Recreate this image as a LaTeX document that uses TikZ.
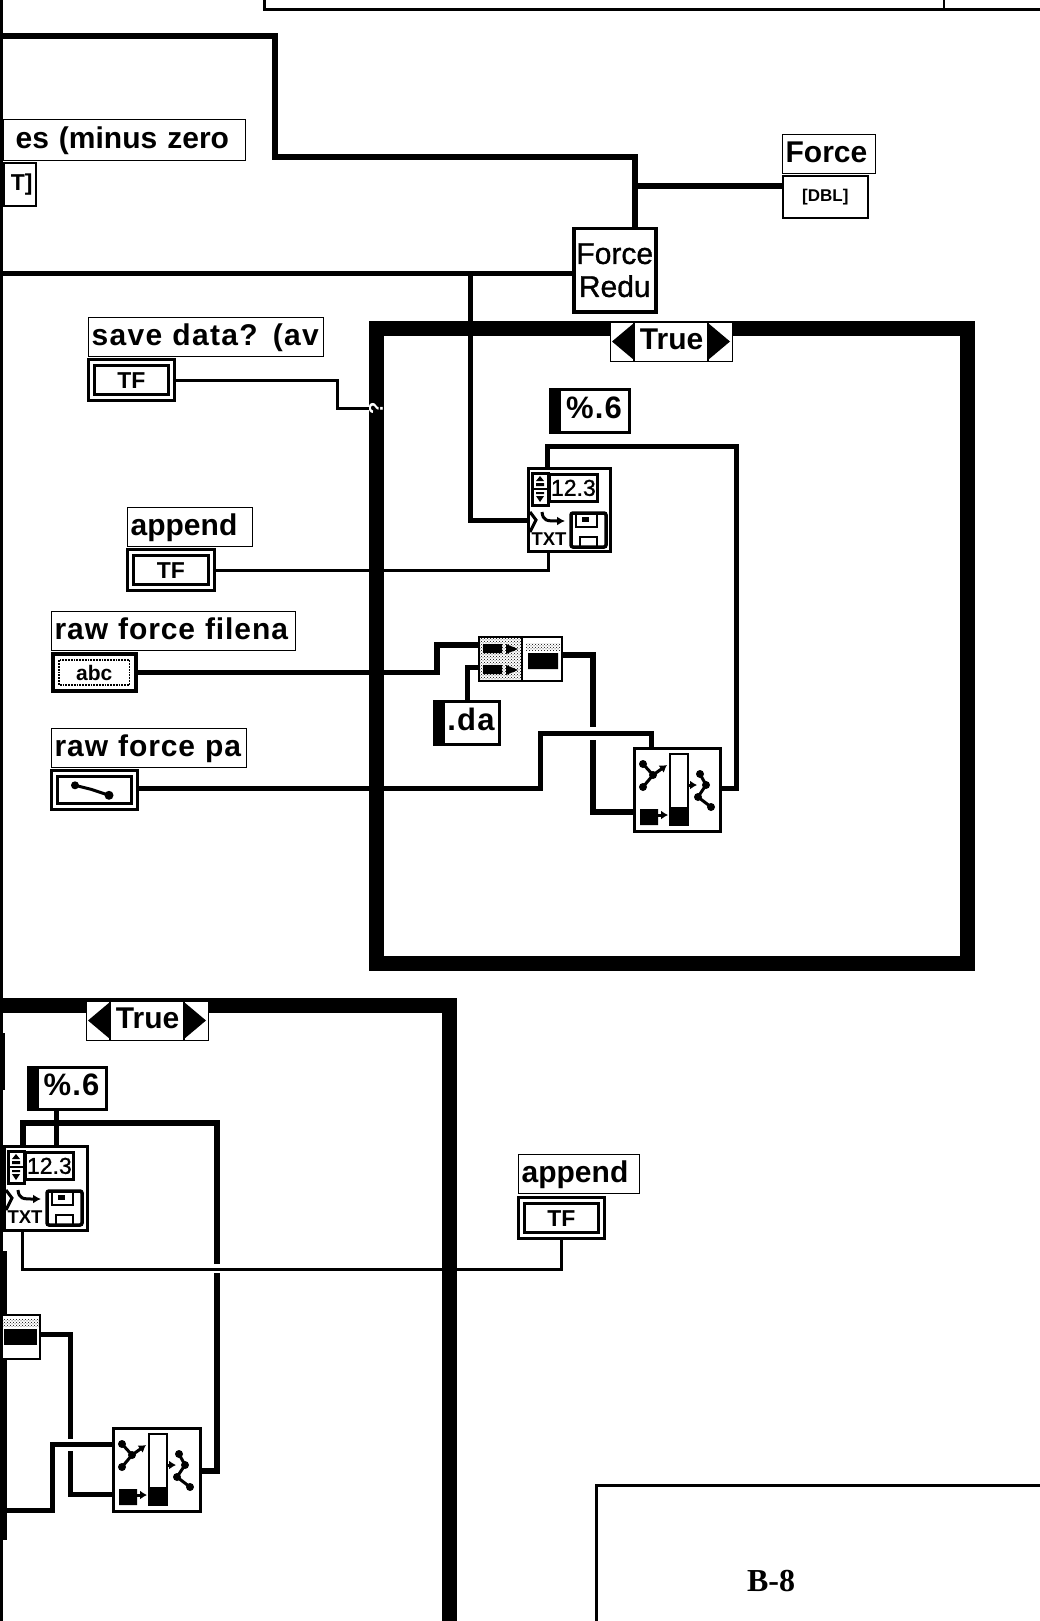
\documentclass[tikz,border=0pt]{standalone}
\usepackage{fontspec}
\usepackage{tikz}
\usetikzlibrary{arrows.meta,positioning,patterns}
\setmainfont{Liberation Sans}
\newfontfamily\serfont{Liberation Serif}
\newcommand{\labfont}{\fontsize{30pt}{34pt}\selectfont\bfseries}
\newcommand{\iconfont}{\fontsize{18pt}{20pt}\selectfont\bfseries}
\newcommand{\tffont}{\fontsize{23pt}{24pt}\selectfont\bfseries}
\tikzset{
	wirethick/.style={draw=black, line width=5pt},
	wirethin/.style={draw=black, line width=3pt},
	labbox/.style={draw, fill=white, line width=1.3pt, anchor=north west, inner xsep=3pt, inner ysep=0pt, minimum height=39pt, text height=22pt, text depth=6pt, font=\labfont, align=left},
	ctlbox/.style={draw, fill=white, line width=2.8pt, double, double distance=3.2pt, anchor=north west, inner sep=0pt, font=\tffont},
	plainctl/.style={draw, fill=white, line width=3.5pt, anchor=north west, inner sep=0pt, font=\iconfont},
	strbox/.style={draw, fill=white, line width=3pt, anchor=north west, inner sep=0pt, text depth=7pt, font=\fontsize{31pt}{34pt}\selectfont\bfseries\addfontfeature{LetterSpace=4}, path picture={\fill[black] (path picture bounding box.north west) rectangle ([xshift=10pt]path picture bounding box.south west);}},
	framebox/.style={draw, line width=15pt, anchor=north west},
	funcbox/.style={draw, fill=white, line width=3pt, anchor=north west, inner sep=0pt},
	truesel/.pic={
		\node[draw, fill=white, line width=1.3pt, anchor=north west, minimum width=122pt, minimum height=39pt, inner sep=0pt, text height=22pt, text depth=8pt, font=\labfont] (-box) at (0,0) {True};
		\draw[line width=1.2pt] (24,0) -- (24,39) (98,0) -- (98,39);
		\fill (2,19.5) -- (24,1) -- (24,38) -- cycle;
		\fill (120,19.5) -- (98,1) -- (98,38) -- cycle;
	},
	filewrite/.pic={
		\draw[line width=3pt, fill=white] (5,6) rectangle (21,38);
		\draw[line width=2pt] (21,22) -- (5,22);
		\fill (13,9) -- (17,14) -- (9,14) -- cycle (13,35) -- (17,29) -- (9,29) -- cycle (9,16) rectangle (17,19) (9,25) rectangle (17,27);
		\node[draw, line width=2.8pt, minimum width=48pt, minimum height=27pt, inner sep=0pt, anchor=north west, font=\fontsize{23pt}{24pt}\selectfont\addfontfeature{FakeBold=1}] (-num) at (21,6) {12.3};
		\draw[line width=3pt] (3,45) -- (9,53) -- (3,65);
		\draw[-{Latex[length=8pt,width=9pt]}, line width=3pt] (15,45) .. controls (16,54) and (20,54) .. (38,54);
		\node[inner sep=0pt, font=\fontsize{18.5pt}{20pt}\selectfont\bfseries] (-txt) at (22,72) {TXT};
		\draw[line width=3.5pt, rounded corners=2pt] (44,46) rectangle (79,80);
		\draw[line width=2.5pt] (49,47) rectangle (70,60) (53,70) rectangle (70,80);
		\fill (55,50) rectangle (62,55);
	},
	mergeglyph/.pic={
		\draw[line width=2.5pt] (37,7) rectangle (55,78);
		\fill (37,60) rectangle (55,78) (7,62) rectangle (25,78);
		\draw[line width=3pt] (10,17) -- (20,28) -- (10,40);
		\fill (10,17) circle (4) (20,28) circle (4) (10,40) circle (4);
		\draw[-{Latex[length=7pt,width=9pt]}, line width=3pt] (20,28) -- (34,18);
		\draw[-{Latex[length=7pt,width=9pt]}, line width=3pt] (25,68) -- (35,68);
		\draw[-{Latex[length=7pt,width=9pt]}, line width=3pt] (55,38) -- (64,38);
		\draw[line width=3pt] (67,27) -- (73,38) -- (65,50) -- (78,60);
		\fill (67,27) circle (4) (73,38) circle (4) (65,50) circle (4) (78,60) circle (4);
	},
}
\begin{document}
\begin{tikzpicture}[x=1pt, y=-1pt]
	\useasboundingbox (0,0) rectangle (1040,1621);
	\clip (0,0) rectangle (1040,1621);

	\draw[line width=2.5pt] (1.5,0) -- (1.5,1621);
	\draw[line width=6pt] (2,1033) -- (2,1090) (4,1251) -- (4,1540);

	\node[draw, line width=3pt, anchor=south west, minimum width=900pt, minimum height=40pt] (topbox) at (263,11) {};
	\draw[line width=2pt] ([xshift=681pt]topbox.south west) -- ++(0,-12);

	\node[labbox, text width=236pt, minimum height=41pt] (zerolab) at (3,119) {\hspace{9pt}es (minus zero};
	\node[draw, fill=white, line width=1.6pt, below=1pt of zerolab.south west, anchor=north west, minimum width=32pt, minimum height=43pt, inner sep=0pt, font=\tffont] (zerotf) {\hspace{4pt}T]};

	\node[labbox, text width=87pt] (forcelab) at (782,134) {Force};
	\node[draw, fill=white, line width=1.6pt, below=1pt of forcelab.south west, anchor=north west, minimum width=85pt, minimum height=42pt, inner sep=0pt, font=\fontsize{17pt}{18pt}\selectfont\bfseries] (dblbox) {[DBL]};

	\node[funcbox, line width=3.5pt, minimum width=82pt, minimum height=83pt, align=center, font=\fontsize{30pt}{33pt}\selectfont\addfontfeature{FakeBold=1}] (forcered) at (572,227) {Force\\Redu};

	\node[framebox, minimum width=591pt, minimum height=635pt] (caseup) at (369,321) {};
	\pic (selup) at (610,322) {truesel};
	\node[inner sep=0pt, text=white, rotate=90, font=\fontsize{20pt}{21pt}\selectfont\bfseries] (tunnel) at (376,408) {?};

	\node[labbox, text width=229pt] (savelab) at (88,317) {\addfontfeature{LetterSpace=4.5}save data? (av};
	\node[ctlbox, below=4pt of savelab.south west, anchor=north west, xshift=2pt, minimum width=80pt, minimum height=35pt] (savetf) {TF};

	\node[labbox, text width=119pt] (appendlab) at (127,507) {append};
	\node[ctlbox, below=4pt of appendlab.south west, anchor=north west, xshift=2pt, minimum width=81pt, minimum height=35pt] (appendtf) {TF};

	\node[labbox, text width=238pt] (filelab) at (51,611) {\addfontfeature{LetterSpace=3}raw force filena};
	\node[plainctl, below=1pt of filelab.south west, anchor=north west, minimum width=83pt, minimum height=37pt, font=\fontsize{21pt}{22pt}\selectfont\bfseries] (abcbox) {abc};
	\draw[densely dotted, line width=1.8pt] ([xshift=8pt,yshift=-8pt]abcbox.north west) rectangle ([xshift=-8pt,yshift=8pt]abcbox.south east);

	\node[labbox, text width=189pt] (pathlab) at (51,728) {\addfontfeature{LetterSpace=3}raw force pa};
	\node[ctlbox, below=4pt of pathlab.south west, anchor=north west, xshift=2pt, minimum width=80pt, minimum height=33pt] (pathbox) {};
	\draw[line width=3pt] ([xshift=22pt,yshift=-13pt]pathbox.north west) -- ([xshift=38pt,yshift=-17pt]pathbox.north west) -- ([xshift=56pt,yshift=-23pt]pathbox.north west);
	\fill ([xshift=22pt,yshift=-13pt]pathbox.north west) circle (4pt) ([xshift=56pt,yshift=-23pt]pathbox.north west) circle (4.5pt);

	\node[strbox, minimum width=79pt, minimum height=43pt] (pctup) at (549,388) {\hspace{8pt}\%.6};
	\node[funcbox, minimum width=82pt, minimum height=83pt] (fileup) at (527,467) {};
	\pic (fileglyphup) at (527,467) {filewrite};

	\node[funcbox, line width=1.6pt, minimum width=83pt, minimum height=44pt] (concat) at (478,636) {};
	\fill[pattern=crosshatch dots] ([xshift=1pt,yshift=-1pt]concat.north west) rectangle ([xshift=44pt,yshift=1pt]concat.south west);
	\fill[pattern=crosshatch dots] ([xshift=48pt,yshift=-7pt]concat.north west) rectangle ([xshift=82pt,yshift=-14pt]concat.north west);
	\draw[line width=1.2pt] ([xshift=44pt]concat.north west) -- ([xshift=44pt]concat.south west);
	\fill ([xshift=5pt,yshift=-8pt]concat.north west) rectangle ([xshift=24pt,yshift=-17pt]concat.north west) ([xshift=5pt,yshift=-29pt]concat.north west) rectangle ([xshift=24pt,yshift=-38pt]concat.north west) ([xshift=50pt,yshift=-17pt]concat.north west) rectangle ([xshift=80pt,yshift=-33pt]concat.north west);
	\fill ([xshift=28pt,yshift=-8pt]concat.north west) -- ([xshift=40pt,yshift=-13pt]concat.north west) -- ([xshift=28pt,yshift=-18pt]concat.north west) -- cycle ([xshift=28pt,yshift=-29pt]concat.north west) -- ([xshift=40pt,yshift=-34pt]concat.north west) -- ([xshift=28pt,yshift=-39pt]concat.north west) -- cycle;

	\node[strbox, minimum width=65pt, minimum height=43pt] (dalab) at (433,700) {\hspace{8pt}.da};

	\node[funcbox, minimum width=86pt, minimum height=83pt] (merge) at (633,747) {};
	\pic (mergeglyphup) at (633,747) {mergeglyph};

	\coordinate (lefttop) at (3,36);
	\coordinate (forcejoin) at (635,186);
	\coordinate (leftwire) at (3,273);
	\coordinate (redjoin) at (470,273);
	\draw[wirethick, line width=6pt] (lefttop) -| (275,157) -| ([xshift=63pt]forcered.north west);
	\draw[wirethick, line width=6pt] (forcejoin) -- (forcejoin -| dblbox.west);
	\draw[wirethick] (leftwire) -- (leftwire -| forcered.west);
	\draw[wirethick] (redjoin) |- ([yshift=-53pt]fileup.north west);
	\draw[wirethin] (savetf.east) -| (337,408) -- (tunnel);
	\draw[wirethin] (appendtf.east) -| ([xshift=21pt]fileup.south west);
	\draw[wirethick, line width=5.5pt] (abcbox.east) -| (437,645) -- ([yshift=-9pt]concat.north west);
	\draw[wirethick] ([yshift=2pt]pathbox.east) -| (540,733) -| ([xshift=18pt]merge.north west);
	\draw[wirethick] (dalab.north) |- ([yshift=-31pt]concat.north west);
	\draw[wirethick, line width=6pt] ([yshift=-19pt]concat.north east) -| (593,727) (593,740) |- ([yshift=-65pt]merge.north west);
	\draw[wirethick] ([yshift=-41pt]merge.north east) -| (736,446) -| ([xshift=20pt]fileup.north west);

	\node[framebox, anchor=north west, minimum width=468pt, minimum height=800pt] (caselow) at (-26,998) {};
	\pic (sellow) at (86,1001) {truesel};

	\node[strbox, minimum width=78pt, minimum height=42pt] (pctlow) at (27,1066) {\hspace{8pt}\%.6};
	\node[funcbox, minimum width=83pt, minimum height=84pt] (filelow) at (3,1145) {};
	\pic (fileglyphlow) at (3,1145) {filewrite};

	\node[funcbox, line width=1.6pt, minimum width=38pt, minimum height=44pt] (concatlow) at (1,1314) {};
	\fill[pattern=crosshatch dots] ([xshift=2pt,yshift=-5pt]concatlow.north west) rectangle ([xshift=38pt,yshift=-12pt]concatlow.north west);
	\fill ([xshift=3pt,yshift=-15pt]concatlow.north west) rectangle ([xshift=36pt,yshift=-31pt]concatlow.north west);

	\node[funcbox, minimum width=87pt, minimum height=83pt] (mergelow) at (112,1427) {};
	\pic (mergeglyphlow) at (112,1427) {mergeglyph};

	\node[labbox, text width=115pt] (appendlablow) at (518,1154) {append};
	\node[ctlbox, below=5pt of appendlablow.south west, anchor=north west, xshift=2pt, minimum width=80pt, minimum height=35pt] (appendtflow) {TF};

	\coordinate (leftlow) at (3,1510);
	\draw[wirethick, line width=5.5pt] ([yshift=-44pt]mergelow.north east) -| (217,1273) (217,1264) |- (23,1123) -- ([xshift=20pt]filelow.north west);
	\draw[wirethick] ([xshift=29pt]pctlow.south west) -- ([xshift=53pt]filelow.north west);
	\draw[wirethin] ([xshift=19pt]filelow.south west) |- (appendtflow.south |- 0,1269) -- (appendtflow.south);
	\draw[wirethick] ([yshift=-20pt]concatlow.north east) -| (70,1439) (70,1451) |- ([yshift=-67pt]mergelow.north west);
	\draw[wirethick] (leftlow) -| (52,1444) -- ([yshift=-17pt]mergelow.north west);

	\node[draw, line width=3pt, anchor=north west, minimum width=600pt, minimum height=300pt] (pagebox) at (595,1484) {};
	\node[inner sep=0pt, font=\fontsize{32pt}{34pt}\selectfont\serfont\bfseries] (pagenum) at (771,1581) {B-8};
\end{tikzpicture}
\end{document}
